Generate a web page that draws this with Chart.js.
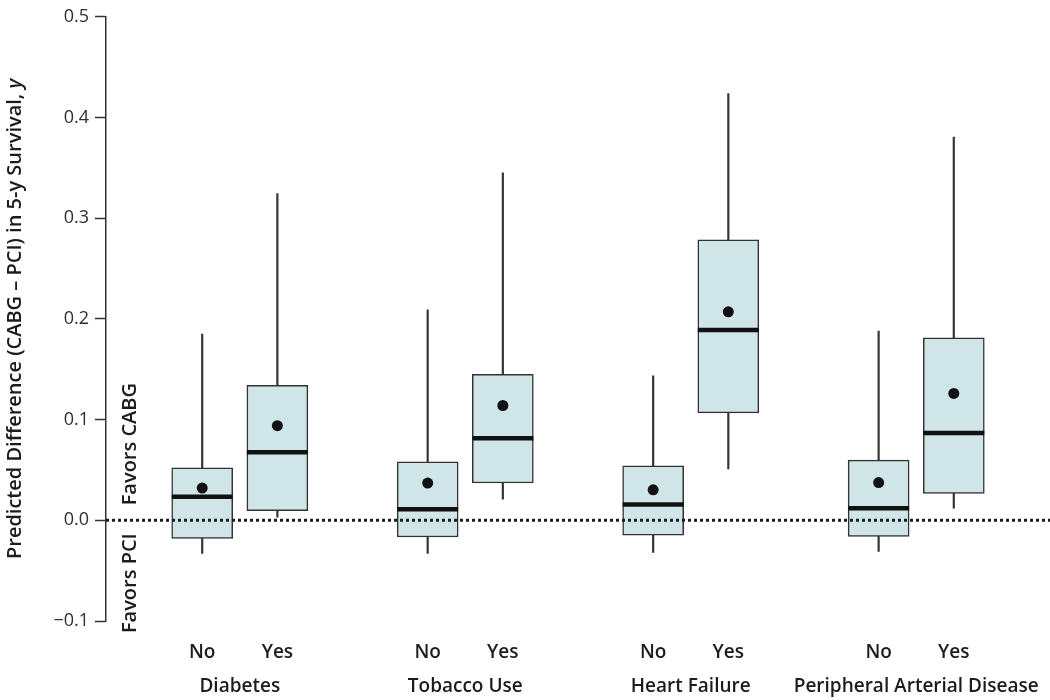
<!DOCTYPE html>
<html>
<head>
<meta charset="utf-8">
<script src="https://cdn.jsdelivr.net/npm/chart.js@4.4.1/dist/chart.umd.min.js"></script>
<style>
  html, body { margin: 0; padding: 0; background: #fff; }
  #wrap { width: 1050px; height: 700px; position: relative; }
</style>
</head>
<body>
<div id="wrap"><canvas id="chart"></canvas></div>
<script>
// Data
const categories = ["Diabetes", "Tobacco Use", "Heart Failure", "Peripheral Arterial Disease"]
const subgroups = ["No", "Yes"]
const xPositions = [0, 1, 3, 4, 6, 7, 9, 10]
const whiskerLow = [-0.033, 0.003, -0.033, 0.021, -0.032, 0.051, -0.031, 0.012]
const q1 = [-0.018, 0.0095, -0.0166, 0.037, -0.0147, 0.1067, -0.016, 0.0267]
const medians = [0.0235, 0.0675, 0.011, 0.0815, 0.0157, 0.189, 0.012, 0.0868]
const q3 = [0.052, 0.134, 0.058, 0.145, 0.054, 0.2786, 0.0597, 0.1813]
const whiskerHigh = [0.185, 0.3245, 0.209, 0.345, 0.1435, 0.4237, 0.188, 0.3806]
const means = [0.032, 0.094, 0.037, 0.114, 0.0303, 0.207, 0.0375, 0.126]
const yTicks = [-0.1, 0, 0.1, 0.2, 0.3, 0.4, 0.5]

const boxFill = "#cfe5e8"
const boxLine = "#333333"
const ink = "#1c1c1c"
const labelFont = "'Open Sans', sans-serif"

const xLabels = xPositions.map((x, i) => subgroups[i % 2])

// extra text: axis title, favors labels, group names
const annotations = {
  id: "annotations",
  afterDraw(chart) {
    const { ctx, chartArea, scales } = chart
    const y0 = scales.y.getPixelForValue(0)
    ctx.save()
    ctx.fillStyle = ink
    ctx.textBaseline = "middle"

    // group names under the No/Yes labels
    ctx.font = "600 19px " + labelFont
    ctx.textAlign = "center"
    categories.forEach((c, i) => {
      const mid = (xPositions[i * 2] + xPositions[i * 2 + 1]) / 2
      ctx.fillText(c, scales.x.getPixelForValue(mid), 687)
    })

    // rotated texts
    ctx.translate(130, 0)
    ctx.rotate(-Math.PI / 2)
    ctx.font = "600 20px " + labelFont
    ctx.textAlign = "left"
    ctx.fillText("Favors CABG", -(y0 - 15), 0)
    ctx.textAlign = "right"
    ctx.fillText("Favors PCI", -(y0 + 13), 0)
    ctx.restore()

    // y axis title with italic y
    ctx.save()
    ctx.fillStyle = ink
    ctx.textBaseline = "middle"
    ctx.translate(15, 0)
    ctx.rotate(-Math.PI / 2)
    const main = "Predicted Difference (CABG \u2013 PCI) in 5-y Survival, "
    let size = 18
    ctx.font = "600 " + size + "px " + labelFont
    let w1 = ctx.measureText(main).width
    ctx.font = "italic 600 " + size + "px " + labelFont
    let w2 = ctx.measureText("y").width
    size = Math.min(20, size * 483 / (w1 + w2))
    const fMain = "600 " + size.toFixed(1) + "px " + labelFont
    const fIt = "italic 600 " + size.toFixed(1) + "px " + labelFont
    ctx.font = fMain
    w1 = ctx.measureText(main).width
    ctx.font = fIt
    w2 = ctx.measureText("y").width
    const cy = (chartArea.top + chartArea.bottom) / 2
    const start = -cy - (w1 + w2) / 2
    ctx.textAlign = "left"
    ctx.font = fMain
    ctx.fillText(main, start, 0)
    ctx.font = fIt
    ctx.fillText("y", start + w1, 0)
    ctx.restore()
  },
}

const ctx = document.getElementById("chart").getContext("2d")

new Chart(ctx, {
  type: "bar",
  data: {
    datasets: [
      {
        // dotted reference line at 0, drawn over the boxes
        type: "line",
        data: [{ x: -1.28, y: 0 }, { x: 11.28, y: 0 }],
        borderColor: ink,
        borderWidth: 3,
        borderDash: [3, 3],
        pointRadius: 0,
        order: 2.5,
      },
      {
        // lower whiskers
        type: "bar",
        data: xPositions.map((x, i) => ({ x: x, y: [whiskerLow[i], q1[i]] })),
        backgroundColor: boxLine,
        borderWidth: 0,
        barThickness: 1.5,
        grouped: false,
        order: 4,
      },
      {
        // upper whiskers
        type: "bar",
        data: xPositions.map((x, i) => ({ x: x, y: [q3[i], whiskerHigh[i]] })),
        backgroundColor: boxLine,
        borderWidth: 0,
        barThickness: 1.5,
        grouped: false,
        order: 4,
      },
      {
        // boxes q1..q3
        type: "bar",
        data: xPositions.map((x, i) => ({ x: x, y: [q1[i], q3[i]] })),
        backgroundColor: boxFill,
        borderColor: boxLine,
        borderWidth: 1.5,
        borderSkipped: false,
        barThickness: 61,
        grouped: false,
        order: 3,
      },
      {
        // medians
        type: "scatter",
        data: xPositions.map((x, i) => ({ x: x, y: medians[i] })),
        pointStyle: "line",
        pointRadius: 30.5,
        pointHoverRadius: 30.5,
        borderColor: "#111",
        borderWidth: 4.5,
        order: 2,
      },
      {
        // means
        type: "scatter",
        data: xPositions.map((x, i) => ({ x: x, y: means[i] })),
        pointStyle: "circle",
        pointRadius: 5.5,
        backgroundColor: "#111",
        borderColor: "#111",
        borderWidth: 0,
        order: 1,
      },
    ],
  },
  options: {
    responsive: true,
    maintainAspectRatio: false,
    animation: false,
    layout: { autoPadding: false, padding: { top: 8, right: 0, left: 0, bottom: 0 } },
    plugins: {
      legend: { display: false },
      tooltip: { enabled: false },
    },
    scales: {
      x: {
        type: "linear",
        offset: false,
        min: -1.28,
        max: 11.28,
        grid: { display: false, drawTicks: false },
        border: { display: false },
        afterBuildTicks: (scale) => {
          scale.ticks = xPositions.map((v) => ({ value: v }))
        },
        afterFit: (scale) => {
          scale.height = 79
        },
        ticks: {
          autoSkip: false,
          maxRotation: 0,
          padding: 20,
          color: ink,
          font: { family: labelFont, size: 19, weight: "600" },
          callback: (v) => {
            const i = xPositions.indexOf(v)
            return i >= 0 ? xLabels[i] : ""
          },
        },
      },
      y: {
        min: -0.1,
        max: 0.5,
        afterBuildTicks: (scale) => {
          scale.ticks = yTicks.map((v) => ({ value: v }))
        },
        afterFit: (scale) => {
          scale.width = 106
        },
        grid: {
          drawOnChartArea: false,
          drawTicks: true,
          tickLength: 11,
          tickWidth: 1.5,
          tickColor: boxLine,
        },
        border: { display: true, color: boxLine, width: 1.5 },
        ticks: {
          padding: 6,
          color: "#2b2f36",
          font: { family: labelFont, size: 18 },
          callback: (v) => (v < 0 ? "\u2212" + Math.abs(v).toFixed(1) : v.toFixed(1)),
        },
      },
    },
  },
  plugins: [annotations],
})
</script>
</body>
</html>
